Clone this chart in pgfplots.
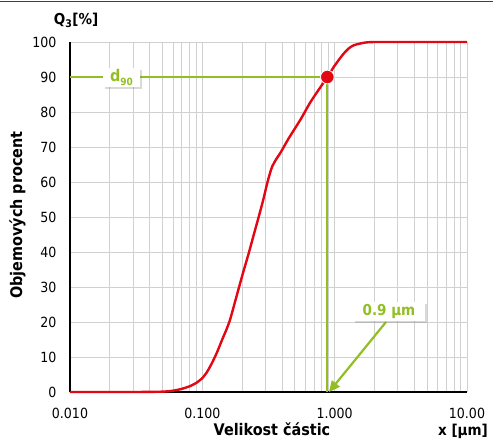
\documentclass[border=0pt]{standalone}
\usepackage{pgfplots}
\pgfplotsset{compat=1.18}
\usepackage{fontspec}
\setmainfont{DejaVu Sans Condensed}
\usetikzlibrary{shadows,arrows.meta}
\definecolor{cRed}{RGB}{227,6,19}
\definecolor{cGreen}{RGB}{146,190,36}
\definecolor{cGrid}{RGB}{208,208,208}
\begin{document}
\begin{tikzpicture}
\begin{axis}[
  at={(70bp,-392bp)}, anchor=south west,
  scale only axis, width=397bp, height=350bp,
  xmode=log, xmin=0.01, xmax=10, ymin=0, ymax=100,
  axis lines=left, axis line style={-, black, line width=1.2bp},
  xtick={0.01,0.1,1,10}, xticklabels={0.010,0.100,1.000,10.00},
  ytick={0,10,...,100},
  grid=both,
  major grid style={cGrid, line width=0.9bp},
  minor grid style={cGrid, line width=0.9bp},
  major tick length=0pt, minor tick length=0pt,
  /pgf/number format/assume math mode=true,
  tick label style={font=\fontsize{14bp}{16bp}\selectfont},
  xticklabel style={yshift=-13bp},
  yticklabel style={xshift=-10bp},
  clip=false,
]
\addplot[cGreen, line width=1.8bp] coordinates {(0.01,90) (0.88,90)};
\addplot[cGreen, line width=1.8bp] coordinates {(0.88,90) (0.88,0)};
\addplot[cRed, line width=2.4bp, line join=round, smooth, tension=0.35] coordinates {
(0.01,0) (0.03,0) (0.05,0.1) (0.0607,0.4) (0.07,0.9) (0.081,1.7) (0.09,2.6) (0.0995,3.9)
(0.108,5.6) (0.118,8.2) (0.129,11.3) (0.141,14.9) (0.152,17.8) (0.163,21.0) (0.188,29.5) (0.205,34.6) (0.224,39.6)
(0.245,45.0) (0.267,50.1) (0.289,55.0) (0.309,59.6) (0.325,62.6) (0.337,64.4) (0.36,66.4) (0.39,68.4)
(0.45,72.5) (0.553,77.9) (0.658,82.9) (0.784,87.2) (0.88,90) (0.99,93.0) (1.09,95.2) (1.177,96.8)
(1.28,98.2) (1.40,99.1) (1.67,99.8) (2.0,100) (4,100) (10,100)};
\addplot[only marks, mark=*, mark size=6.8bp, mark options={fill=cRed, draw=white, line width=0.8bp}] coordinates {(0.88,90)};
\end{axis}
\begin{scope}[x=1bp, y=-1bp]
\draw[black!75, line width=1bp] (0,1.5) -- (493,1.5);
\node[font=\bfseries\fontsize{15bp}{17bp}\selectfont] at (76,20) {Q$_\mathbf{3}$[\%]};
\node[font=\bfseries\fontsize{16bp}{18bp}\selectfont, rotate=90] at (17.5,215) {Objemových procent};
\node[font=\bfseries\fontsize{16bp}{18bp}\selectfont] at (272,429) {Velikost částic};
\node[font=\bfseries\fontsize{15bp}{17bp}\selectfont] at (463,431) {x [µm]};
\node[fill=white, drop shadow={opacity=0.3, shadow xshift=2bp, shadow yshift=-2bp}, minimum width=37bp, minimum height=19bp, inner sep=0pt, text=cGreen, font=\bfseries\fontsize{16bp}{18bp}\selectfont] at (121.5,77.5) {d\raisebox{-0.35ex}{\fontsize{10bp}{12bp}\selectfont 90}};
\draw[cGreen, line width=2.2bp, -{Triangle[length=11bp,width=10bp]}] (386,322) -- (329,392);
\node[fill=white, drop shadow={opacity=0.3, shadow xshift=2bp, shadow yshift=-2bp}, minimum width=72bp, minimum height=19bp, inner sep=0pt, text=cGreen, font=\bfseries\fontsize{15bp}{17bp}\selectfont] at (389,311) {0.9 µm};
\end{scope}
\pgfresetboundingbox
\path (0,0) rectangle (493bp,-443bp);
\end{tikzpicture}
\end{document}
